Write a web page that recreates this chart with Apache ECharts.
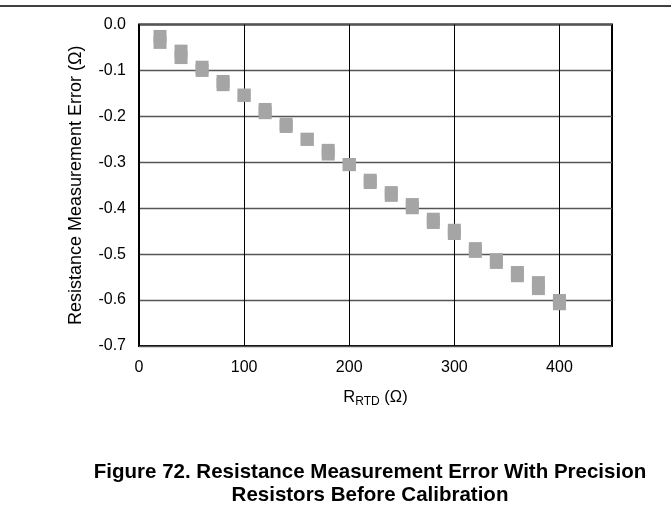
<!DOCTYPE html>
<html>
<head>
<meta charset="utf-8">
<script src="https://cdn.jsdelivr.net/npm/echarts@6/dist/echarts.min.js"></script>
<style>
html,body{margin:0;padding:0;background:#fff;}
#chart{width:671px;height:522px;}
</style>
</head>
<body>
<div id="chart"></div>
<script>
const resistance = [20,40,60,80,100,120,140,160,180,200,220,240,260,280,300,320,340,360,380,400];
const errorUpper = [-0.026,-0.058,-0.093,-0.124,-0.154,-0.185,-0.217,-0.250,-0.274,-0.305,-0.339,-0.366,-0.392,-0.424,-0.448,-0.488,-0.512,-0.540,-0.562,-0.601];
const errorLower = [-0.039,-0.072,-0.100,-0.131,-0.154,-0.192,-0.222,-0.250,-0.282,-0.305,-0.344,-0.372,-0.399,-0.431,-0.455,-0.494,-0.518,-0.547,-0.575,-0.608];
const xTicks = [0,100,200,300,400];
const yTicks = ['0.0','-0.1','-0.2','-0.3','-0.4','-0.5','-0.6','-0.7'];
const captionLines = ['Figure 72. Resistance Measurement Error With Precision','Resistors Before Calibration'];

const font = 'Liberation Sans, Arial, sans-serif';
const chart = echarts.init(document.getElementById('chart'), null, {renderer:'canvas'});
chart.setOption({
  animation:false,
  backgroundColor:'#fff',
  grid:{left:139, right:59, top:24.5, bottom:176, show:true, borderColor:'#000', borderWidth:2, backgroundColor:'transparent', containLabel:false},
  title:{
    text: captionLines.join('\n'),
    left: 365, top: 456, textAlign:'center',
    textStyle:{fontFamily:font, fontWeight:'bold', fontSize:20.5, color:'#000', lineHeight:23}
  },
  graphic:[{type:'line', shape:{x1:0,y1:6,x2:671,y2:6}, style:{stroke:'#000', lineWidth:1.5}}],
  xAxis:{
    type:'value', min:0, max:450, interval:100,
    name:'{r|R}{s|RTD}{r| (Ω)}', nameLocation:'middle', nameGap:41,
    nameTextStyle:{rich:{r:{fontFamily:font, fontSize:16.5, color:'#000'}, s:{fontFamily:font, fontSize:12, color:'#000', padding:[9,0,0,0]}}},
    axisLine:{show:false}, axisTick:{show:false},
    axisLabel:{fontFamily:font, fontSize:16, color:'#000', margin:14, showMaxLabel:false,
      formatter:v=> xTicks.includes(v) ? String(v) : ''},
    splitLine:{show:true, lineStyle:{color:'#000', width:1}}
  },
  yAxis:{
    type:'value', min:-0.7, max:0, interval:0.1,
    name:'Resistance Measurement Error (Ω)', nameLocation:'middle', nameGap:54,
    nameTextStyle:{fontFamily:font, fontSize:18, color:'#000'},
    axisLine:{show:false}, axisTick:{show:false},
    axisLabel:{fontFamily:font, fontSize:16, color:'#000', margin:13,
      formatter:v=> yTicks[Math.round(-v*10)]},
    splitLine:{show:true, lineStyle:{color:'#555', width:1.3}}
  },
  series:[
    {type:'scatter', symbol:'rect', symbolSize:13, itemStyle:{color:'#a5a5a5', opacity:1},
     data: resistance.map((r,i)=>[r, errorUpper[i]])},
    {type:'scatter', symbol:'rect', symbolSize:13, itemStyle:{color:'#a5a5a5', opacity:1},
     data: resistance.map((r,i)=>[r, errorLower[i]])}
  ]
});
</script>
</body>
</html>
